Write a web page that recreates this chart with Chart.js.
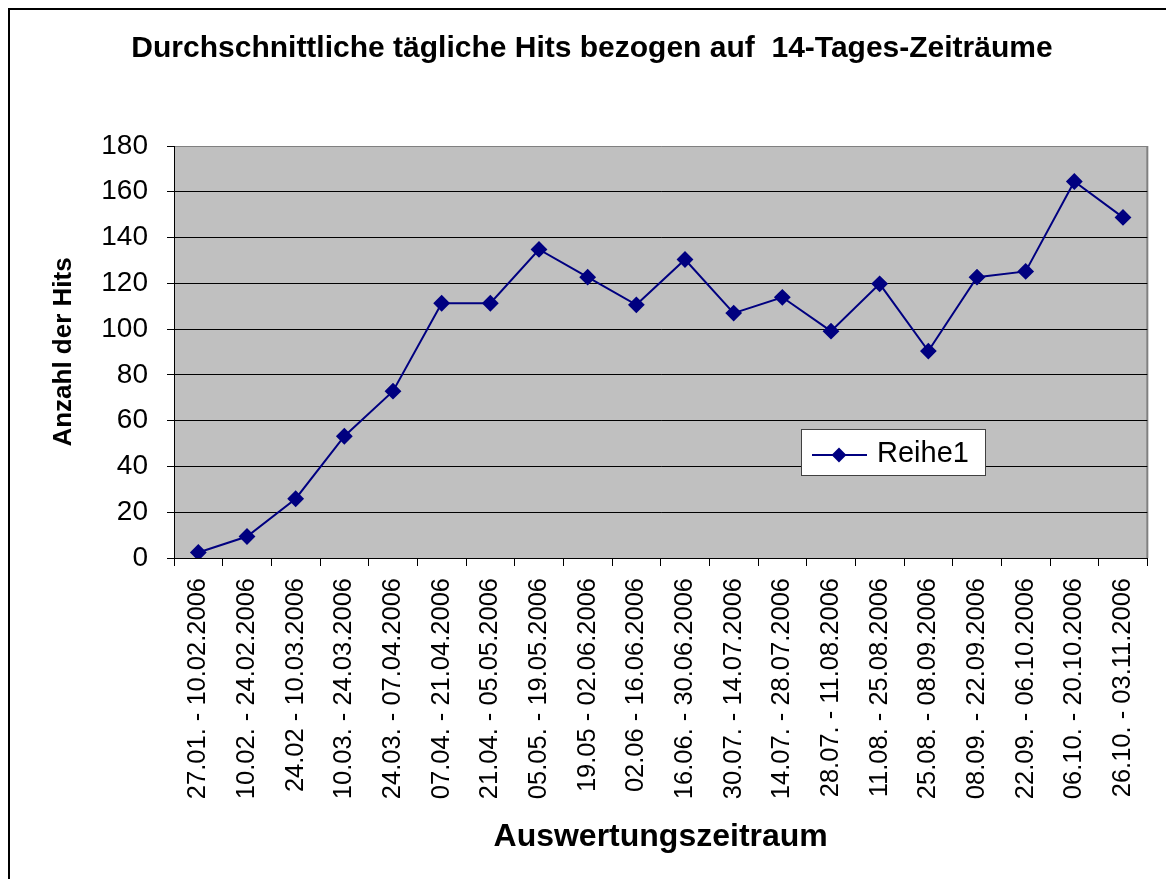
<!DOCTYPE html>
<html>
<head>
<meta charset="utf-8">
<title>Durchschnittliche tägliche Hits</title>
<script src="https://cdn.jsdelivr.net/npm/chart.js@4/dist/chart.umd.min.js"></script>
<style>
  body { margin: 0; background: #fff; }
  #wrap { width: 1166px; height: 879px; position: relative; }
</style>
</head>
<body>
<div id="wrap">
  <canvas id="myChart" width="1166" height="879"></canvas>
</div>
<script>
const zeitraeume = [
  "27.01. - 10.02.2006", "10.02. - 24.02.2006", "24.02 - 10.03.2006", "10.03. - 24.03.2006",
  "24.03. - 07.04.2006", "07.04. - 21.04.2006", "21.04. - 05.05.2006", "05.05. - 19.05.2006",
  "19.05 - 02.06.2006", "02.06 - 16.06.2006", "16.06. - 30.06.2006", "30.07. - 14.07.2006",
  "14.07. - 28.07.2006", "28.07. - 11.08.2006", "11.08. - 25.08.2006", "25.08. - 08.09.2006",
  "08.09. - 22.09.2006", "22.09. - 06.10.2006", "06.10. - 20.10.2006", "26.10. - 03.11.2006"
];
const reihe1 = [2.4, 9.4, 25.9, 53.2, 72.9, 111.3, 111.3, 134.8, 122.7, 110.6,
                130.4, 107, 113.9, 99.1, 119.8, 90.4, 122.7, 125.2, 164.5, 148.8];
const yMin = 0;
const yMax = 180;
const yStep = 20;

const schrift = "'Liberation Sans', Arial, sans-serif";

// grauer Hintergrund der Zeichenfläche + Rahmen
const hintergrund = {
  id: "hintergrund",
  beforeDraw(chart) {
    const ctx = chart.ctx;
    const a = chart.chartArea;
    ctx.save();
    ctx.fillStyle = "#000";
    ctx.fillRect(8, 8, chart.width - 8, 2);
    ctx.fillRect(8, 8, 2, chart.height - 8);
    ctx.fillStyle = "#c0c0c0";
    ctx.fillRect(a.left, a.top, a.right - a.left, a.bottom - a.top);
    ctx.strokeStyle = "#808080";
    ctx.lineWidth = 2;
    ctx.beginPath();
    ctx.moveTo(a.right, a.top);
    ctx.lineTo(a.right, a.bottom);
    ctx.stroke();
    ctx.restore();
  }
};

// Legende im Diagramm (wie im Original)
const legendeBox = {
  id: "legendeBox",
  afterDatasetsDraw(chart) {
    const ctx = chart.ctx;
    const ds = chart.data.datasets[0];
    const x = 801, y = 429, w = 184, h = 46;
    ctx.save();
    ctx.fillStyle = "#fff";
    ctx.fillRect(x, y, w, h);
    ctx.strokeStyle = "#404040";
    ctx.lineWidth = 1;
    ctx.strokeRect(x + 0.5, y + 0.5, w, h);
    const my = y + 26;
    ctx.strokeStyle = ds.borderColor;
    ctx.lineWidth = 2;
    ctx.beginPath();
    ctx.moveTo(x + 11, my);
    ctx.lineTo(x + 66, my);
    ctx.stroke();
    ctx.fillStyle = ds.pointBackgroundColor;
    ctx.strokeStyle = ds.pointBorderColor;
    Chart.helpers.drawPoint(ctx, { pointStyle: "rectRot", radius: 6, borderWidth: 1 }, x + 38, my);
    ctx.fillStyle = "#000";
    ctx.font = "29px " + schrift;
    ctx.textBaseline = "middle";
    ctx.fillText(ds.label, x + 76, my - 1);
    ctx.restore();
  }
};

const chartDOM = document.getElementById("myChart");

const data = {
  labels: zeitraeume,
  datasets: [{
    label: "Reihe1",
    data: reihe1,
    borderColor: "#000080",
    borderWidth: 2,
    pointStyle: "rectRot",
    pointRadius: 7,
    pointBackgroundColor: "#000080",
    pointBorderColor: "#000080",
    fill: false,
    tension: 0
  }]
};

const config = {
  type: "line",
  data,
  options: {
    responsive: false,
    animation: false,
    layout: { padding: { left: 34, right: 16, top: 0, bottom: 0 } },
    plugins: {
      legend: { display: false },
      tooltip: { enabled: false },
      title: {
        display: true,
        text: "Durchschnittliche tägliche Hits bezogen auf  14-Tages-Zeiträume",
        color: "#000",
        font: { family: schrift, size: 30, weight: "bold", lineHeight: 1.2 },
        padding: { top: 31, bottom: 79 }
      }
    },
    scales: {
      x: {
        offset: true,
        afterFit(scale) { scale.height = 321; },
        grid: {
          offset: true,
          drawOnChartArea: false,
          tickLength: 8,
          color: "#000"
        },
        border: { color: "#000", width: 1 },
        ticks: {
          autoSkip: false,
          minRotation: 90,
          maxRotation: 90,
          padding: 12,
          color: "#000",
          font: { family: schrift, size: 25.5 }
        },
        title: {
          display: true,
          text: "Auswertungszeitraum",
          color: "#000",
          font: { family: schrift, size: 32, weight: "bold", lineHeight: 1.2 },
          padding: { top: 0, bottom: 23 }
        }
      },
      y: {
        min: yMin,
        max: yMax,
        afterFit(scale) { scale.width = 140; },
        grid: {
          color: (c) => (c.tick && c.tick.value === yMax ? "#808080" : "#000"),
          tickColor: "#000",
          tickLength: 7
        },
        border: { color: "#000", width: 1 },
        ticks: {
          stepSize: yStep,
          padding: 19,
          color: "#000",
          font: { family: schrift, size: 28 }
        },
        title: {
          display: true,
          text: "Anzahl der Hits",
          color: "#000",
          font: { family: schrift, size: 26, weight: "bold", lineHeight: 1.2 },
          padding: { top: 14, bottom: 0 }
        }
      }
    }
  },
  plugins: [hintergrund, legendeBox]
};

const myChart = new Chart(chartDOM, config);
</script>
</body>
</html>
